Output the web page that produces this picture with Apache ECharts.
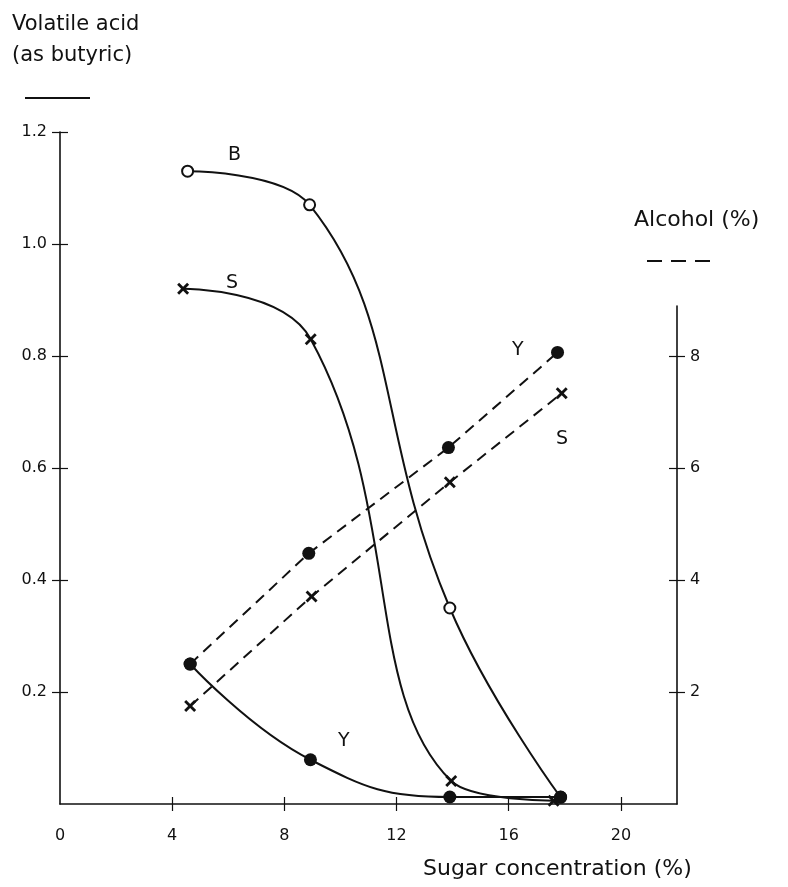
<!DOCTYPE html>
<html>
<head>
<meta charset="utf-8">
<script src="https://cdn.jsdelivr.net/npm/echarts@6/dist/echarts.min.js"></script>
<style>html,body{margin:0;padding:0;background:#fff}#c{width:788px;height:887px}</style>
</head>
<body>
<div id="c"></div>
<script>
// ---- data ----
const xTicks = [0, 4, 8, 12, 16, 20];
const leftTicks = [0.2, 0.4, 0.6, 0.8, 1.0, 1.2];
const rightTicks = [2, 4, 6, 8];

// Volatile acid (left axis), solid lines
const bX = [4.55, 8.9, 13.9, 17.85];
const bAcid = [1.13, 1.07, 0.35, 0.012];
const sX = [4.39, 8.94, 13.95, 17.6];
const sAcid = [0.92, 0.83, 0.041, 0.006];
const yX = [4.64, 8.93, 13.9, 17.85];
const yAcid = [0.25, 0.079, 0.0125, 0.0125];

// Alcohol (right axis), dashed lines
const yAlcX = [4.64, 8.87, 13.85, 17.74];
const yAlc = [2.5, 4.48, 6.37, 8.07];
const sAlcX = [4.64, 8.97, 13.9, 17.89];
const sAlc = [1.75, 3.71, 5.75, 7.34];

const pairs = (xs, ys) => xs.map((x, i) => [x, ys[i]]);

const FONT = 'DejaVu Sans';
const INK = '#111';
const crossSym = 'path://M0,2 L2,0 L6,4 L10,0 L12,2 L8,6 L12,10 L10,12 L6,8 L2,12 L0,10 L4,6 Z';

const G_LEFT = 60, G_RIGHT = 788 - 677, G_BOTTOM = 887 - 804;
const TOP_ACID = 132, TOP_ALC = 306;

const chart = echarts.init(document.getElementById('c'), null, {renderer: 'canvas'});

const yAx = (gi, pos, max, interval, inside, ticks, labels) => ({
  type: 'value', gridIndex: gi, position: pos, min: 0, max: max, interval: interval,
  splitLine: {show: false},
  axisLine: {show: !inside, onZero: false, lineStyle: {color: INK, width: 1.6}},
  axisTick: {show: true, inside: inside, length: 8, customValues: ticks,
    lineStyle: {color: INK, width: 1.2}},
  axisLabel: labels ? {
    show: true, color: INK, fontFamily: FONT, fontSize: 16, margin: 13,
    customValues: ticks,
    formatter: v => (pos === 'left' ? v.toFixed(1) : String(v))
  } : {show: false}
});

const xAx = (gi, inside, labels, show) => ({
  type: 'value', gridIndex: gi, position: 'bottom', min: 0, max: 22, interval: 4, show: show,
  splitLine: {show: false},
  axisLine: {show: !inside, onZero: false, lineStyle: {color: INK, width: 1.6}},
  axisTick: {show: true, inside: inside, length: 7, customValues: xTicks.slice(1),
    lineStyle: {color: INK, width: 1.2}},
  axisLabel: labels ? {
    show: true, color: INK, fontFamily: FONT, fontSize: 16, margin: 24,
    customValues: xTicks, formatter: v => String(v)
  } : {show: false}
});

const solid = (name, data, symbol, size, open) => ({
  name, type: 'line', xAxisIndex: 0, yAxisIndex: 0, data, smooth: 0.45,
  symbol, symbolSize: size, showSymbol: true,
  lineStyle: {color: INK, width: 2},
  itemStyle: open ? {color: '#fff', borderColor: INK, borderWidth: 2}
                  : {color: INK, borderWidth: 0},
  z: 3
});
const dashed = (name, data, symbol, size) => ({
  name, type: 'line', xAxisIndex: 1, yAxisIndex: 1, data, smooth: false,
  symbol, symbolSize: size, showSymbol: true,
  lineStyle: {color: INK, width: 2, type: [11, 7]},
  itemStyle: {color: INK, borderWidth: 0},
  z: 3
});

const gAcid = {left: G_LEFT, right: G_RIGHT, bottom: G_BOTTOM, top: TOP_ACID};
const gAlc = {left: G_LEFT, right: G_RIGHT, bottom: G_BOTTOM, top: TOP_ALC};

const option = {
  animation: false,
  backgroundColor: '#fff',
  grid: [gAcid, gAlc, Object.assign({}, gAcid), Object.assign({}, gAlc)],
  xAxis: [
    xAx(0, false, true, true),
    xAx(1, false, false, false),
    xAx(2, true, false, true),
    xAx(3, false, false, false)
  ],
  yAxis: [
    yAx(0, 'left', 1.2, 0.2, false, leftTicks, true),
    yAx(1, 'right', 8.9, 2, false, rightTicks, true),
    yAx(2, 'left', 1.2, 0.2, true, leftTicks, false),
    yAx(3, 'right', 8.9, 2, true, rightTicks, false)
  ],
  series: [
    solid('B', pairs(bX, bAcid), 'circle', 11, true),
    solid('S', pairs(sX, sAcid), crossSym, 12, false),
    solid('Y', pairs(yX, yAcid), 'circle', 13, false),
    dashed('Y alcohol', pairs(yAlcX, yAlc), 'circle', 13),
    dashed('S alcohol', pairs(sAlcX, sAlc), crossSym, 12)
  ],
  graphic: [
    {type: 'text', left: 12, top: 14, style: {text: 'Volatile acid', font: '21px "DejaVu Sans"', fill: INK}},
    {type: 'text', left: 12, top: 45, style: {text: '(as butyric)', font: '21px "DejaVu Sans"', fill: INK}},
    {type: 'line', shape: {x1: 25, y1: 98, x2: 90, y2: 98}, style: {stroke: INK, lineWidth: 2}},
    {type: 'text', left: 634, top: 209, style: {text: 'Alcohol (%)', font: '22px "DejaVu Sans"', fill: INK}},
    {type: 'line', shape: {x1: 647, y1: 261, x2: 710, y2: 261}, style: {stroke: INK, lineWidth: 2, lineDash: [15, 9]}},
    {type: 'text', left: 423, top: 858, style: {text: 'Sugar concentration (%)', font: '22px "DejaVu Sans"', fill: INK}},
    {type: 'text', left: 228, top: 146, style: {text: 'B', font: '19px "DejaVu Sans"', fill: INK}},
    {type: 'text', left: 226, top: 274, style: {text: 'S', font: '19px "DejaVu Sans"', fill: INK}},
    {type: 'text', left: 338, top: 732, style: {text: 'Y', font: '19px "DejaVu Sans"', fill: INK}},
    {type: 'text', left: 512, top: 341, style: {text: 'Y', font: '19px "DejaVu Sans"', fill: INK}},
    {type: 'text', left: 556, top: 430, style: {text: 'S', font: '19px "DejaVu Sans"', fill: INK}}
  ]
};
chart.setOption(option);
</script>
</body>
</html>
